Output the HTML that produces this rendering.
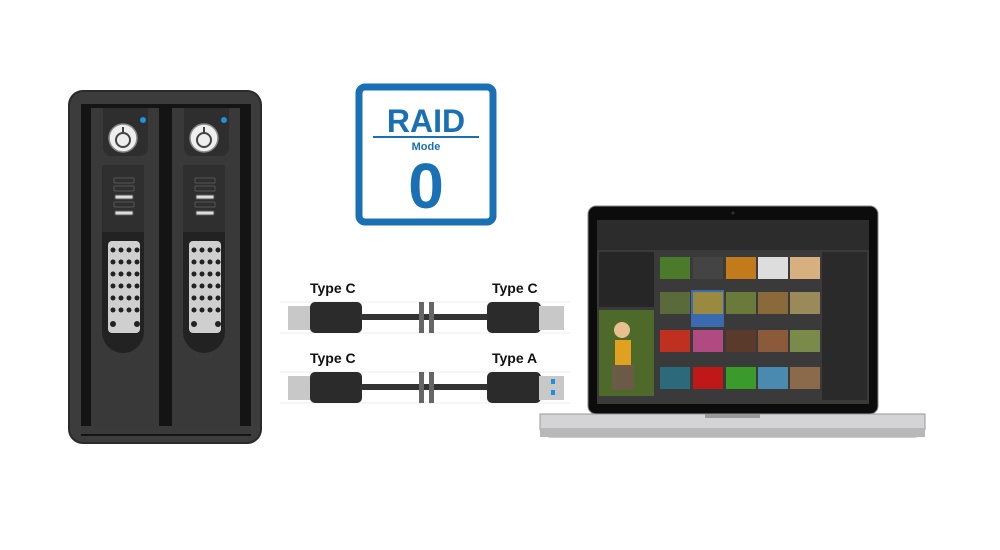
<!DOCTYPE html>
<html><head><style>body{margin:0;background:#fff}svg{display:block}</style></head><body>
<svg width="1000" height="550" viewBox="0 0 1000 550" xmlns="http://www.w3.org/2000/svg" font-family="Liberation Sans, sans-serif">
<rect width="1000" height="550" fill="#fff"/>
<!-- enclosure -->
<rect x="69" y="91" width="192" height="352" rx="14" fill="#3c3c3c" stroke="#2a2a2a" stroke-width="2"/>
<rect x="81" y="104" width="170" height="332" fill="#141414"/>
<rect x="81" y="426" width="170" height="8" fill="#3a3a3a"/>
<g id="tray">
<rect x="91" y="108" width="68" height="320" fill="#393939"/>
<path d="M103 108 h45 v40 a8 8 0 0 1 -8 8 h-29 a8 8 0 0 1 -8 -8z" fill="#2e2e2e"/>
<circle cx="123" cy="138" r="14" fill="#eee" stroke="#888" stroke-width="1.5"/>
<circle cx="123" cy="140" r="7" fill="none" stroke="#444" stroke-width="2"/>
<line x1="123" y1="127" x2="123" y2="134" stroke="#444" stroke-width="2"/>
<circle cx="143" cy="120" r="3" fill="#1e90e0"/>
<rect x="102" y="165" width="42" height="67" fill="#2f2f2f"/>
<rect x="114" y="178" width="20" height="5" rx="1" fill="none" stroke="#555"/>
<rect x="114" y="186" width="20" height="5" rx="1" fill="none" stroke="#555"/>
<rect x="115" y="195" width="18" height="4" rx="1" fill="#ddd" stroke="#555"/>
<rect x="114" y="202" width="20" height="5" rx="1" fill="none" stroke="#555"/>
<rect x="115" y="211" width="18" height="4" rx="1" fill="#ddd" stroke="#555"/>
<path d="M102 232 h42 v100 a21 21 0 0 1 -42 0z" fill="#222"/>
<rect x="108" y="241" width="32" height="92" rx="4" fill="#cfcfcf"/>
<g fill="#222">
<circle cx="113" cy="250" r="2.5"/><circle cx="121" cy="250" r="2.5"/><circle cx="129" cy="250" r="2.5"/><circle cx="137" cy="250" r="2.5"/>
<circle cx="113" cy="262" r="2.5"/><circle cx="121" cy="262" r="2.5"/><circle cx="129" cy="262" r="2.5"/><circle cx="137" cy="262" r="2.5"/>
<circle cx="113" cy="274" r="2.5"/><circle cx="121" cy="274" r="2.5"/><circle cx="129" cy="274" r="2.5"/><circle cx="137" cy="274" r="2.5"/>
<circle cx="113" cy="286" r="2.5"/><circle cx="121" cy="286" r="2.5"/><circle cx="129" cy="286" r="2.5"/><circle cx="137" cy="286" r="2.5"/>
<circle cx="113" cy="298" r="2.5"/><circle cx="121" cy="298" r="2.5"/><circle cx="129" cy="298" r="2.5"/><circle cx="137" cy="298" r="2.5"/>
<circle cx="113" cy="310" r="2.5"/><circle cx="121" cy="310" r="2.5"/><circle cx="129" cy="310" r="2.5"/><circle cx="137" cy="310" r="2.5"/>
<circle cx="113" cy="324" r="3"/><circle cx="137" cy="324" r="3"/>
</g>
</g>
<use href="#tray" transform="translate(81,0)"/>
<!-- RAID -->
<rect x="359" y="87" width="134" height="135" rx="6" fill="#fff" stroke="#1a70b4" stroke-width="7"/>
<text x="426" y="132" font-size="32" font-weight="bold" fill="#1a70b4" text-anchor="middle">RAID</text>
<rect x="373" y="136" width="106" height="2" fill="#1a70b4"/>
<text x="426" y="150" font-size="11" font-weight="bold" fill="#1a70b4" text-anchor="middle">Mode</text>
<text x="426" y="208" font-size="64" font-weight="bold" fill="#1a70b4" text-anchor="middle">0</text>
<!-- cables -->
<g font-size="14" font-weight="bold" fill="#111">
<text x="310" y="293">Type C</text><text x="492" y="293">Type C</text>
<text x="310" y="363">Type C</text><text x="492" y="363">Type A</text>
</g>
<g id="cab">
<line x1="280" y1="302" x2="570" y2="302" stroke="#eee"/>
<line x1="280" y1="333" x2="570" y2="333" stroke="#eee"/>
<rect x="288" y="306" width="24" height="24" fill="#c8c8c8"/>
<rect x="310" y="302" width="52" height="31" rx="5" fill="#2b2b2b"/>
<rect x="360" y="314" width="130" height="6" rx="3" fill="#333"/>
<rect x="419" y="302" width="5" height="31" fill="#666"/>
<rect x="429" y="302" width="5" height="31" fill="#666"/>
<rect x="487" y="302" width="54" height="31" rx="5" fill="#2b2b2b"/>
</g>
<rect x="539" y="306" width="25" height="24" fill="#c8c8c8"/>
<use href="#cab" transform="translate(0,70)"/>
<rect x="539" y="376" width="25" height="24" fill="#c8c8c8"/>
<rect x="551" y="379" width="4" height="5" fill="#1e90e0"/><rect x="551" y="390" width="4" height="5" fill="#1e90e0"/>
<!-- laptop -->
<rect x="588" y="206" width="290" height="208" rx="8" fill="#0c0c0c" stroke="#888"/>
<circle cx="733" cy="213" r="1.5" fill="#333"/>
<rect x="597" y="220" width="272" height="184" fill="#3a3a3a"/>
<rect x="597" y="220" width="272" height="30" fill="#2c2c2c"/>
<rect x="599" y="252" width="55" height="55" fill="#262626"/>
<rect x="599" y="310" width="55" height="86" fill="#4e6a2a"/>
<circle cx="622" cy="330" r="8" fill="#e8c090"/><rect x="615" y="340" width="16" height="25" fill="#e0a020"/>
<rect x="612" y="365" width="22" height="25" fill="#6b5a45"/>
<rect x="822" y="252" width="45" height="148" fill="#2a2a2a"/>
<g>
<rect x="660" y="257" width="30" height="22" fill="#4a7a2a"/><rect x="693" y="257" width="30" height="22" fill="#444"/><rect x="726" y="257" width="30" height="22" fill="#c27a1a"/><rect x="758" y="257" width="30" height="22" fill="#ddd"/><rect x="790" y="257" width="30" height="22" fill="#d8b080"/>
<rect x="660" y="292" width="30" height="22" fill="#5a6a3a"/><rect x="691" y="290" width="33" height="37" fill="#3a6ab0"/><rect x="693" y="292" width="30" height="22" fill="#9a8a40"/><rect x="726" y="292" width="30" height="22" fill="#6a7a3a"/><rect x="758" y="292" width="30" height="22" fill="#8a6a3a"/><rect x="790" y="292" width="30" height="22" fill="#9a8a5a"/>
<rect x="660" y="330" width="30" height="22" fill="#c03020"/><rect x="693" y="330" width="30" height="22" fill="#b04a80"/><rect x="726" y="330" width="30" height="22" fill="#5a3a2a"/><rect x="758" y="330" width="30" height="22" fill="#8a5a3a"/><rect x="790" y="330" width="30" height="22" fill="#7a8a4a"/>
<rect x="660" y="367" width="30" height="22" fill="#2a6a7a"/><rect x="693" y="367" width="30" height="22" fill="#c01818"/><rect x="726" y="367" width="30" height="22" fill="#3a9a2a"/><rect x="758" y="367" width="30" height="22" fill="#4a8ab0"/><rect x="790" y="367" width="30" height="22" fill="#8a6a4a"/>
</g>
<path d="M540 414 H925 V428 Q925 436 915 437 H550 Q540 436 540 428Z" fill="#d4d4d6" stroke="#999"/>
<rect x="540" y="428" width="385" height="9" fill="#b8b8ba"/>
<rect x="705" y="414" width="55" height="4" fill="#999"/>
</svg>
</body></html>
